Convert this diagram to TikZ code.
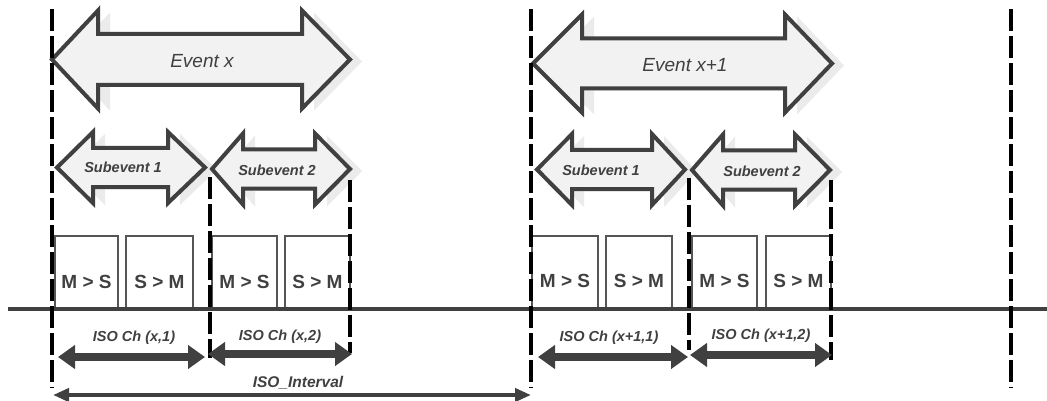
\documentclass[tikz,border=0pt]{standalone}
\usepackage{fontspec}
\setmainfont{Liberation Sans}
\usetikzlibrary{arrows.meta}
\definecolor{dk}{HTML}{404040}
\definecolor{afill}{HTML}{F2F2F2}
\definecolor{ashadow}{HTML}{EBEBEB}
\definecolor{boxline}{HTML}{555555}
% #1 left tip x, #2 left base x, #3 right base x, #4 right tip x, #5 centre y, #6 head half, #7 shaft half
\newcommand\barrowpath[7]{(#1,#5) -- (#2,#5-#6) -- (#2,#5-#7) -- (#3,#5-#7) -- (#3,#5-#6) -- (#4,#5) -- (#3,#5+#6) -- (#3,#5+#7) -- (#2,#5+#7) -- (#2,#5+#6) -- cycle}
\tikzset{
  blockarrow/.style={draw=dk, line width=4pt, fill=afill, line join=miter},
  blockshadow/.style={fill=ashadow},
  evtext/.style={text=dk, font=\fontsize{19}{21}\selectfont\itshape, inner sep=0pt},
  subtext/.style={text=dk, font=\fontsize{14.5}{16}\selectfont\bfseries\itshape, inner sep=0pt},
  pkt/.style={draw=boxline, line width=1.6pt, fill=white},
  pkttext/.style={text=dk, font=\fontsize{19}{21}\selectfont\bfseries, inner sep=0pt},
  isotext/.style={text=dk, font=\fontsize{14.5}{16}\selectfont\bfseries\itshape, inner sep=0pt},
  vdash/.style={black, line width=3.2pt, dash pattern=on 22pt off 5pt},
  isoarrow/.style={dk, line width=7.5pt, {Triangle[length=17pt,width=23pt]}-{Triangle[length=17pt,width=23pt]}},
  intarrow/.style={dk, line width=4pt, {Triangle[length=16pt,width=13pt]}-{Triangle[length=16pt,width=13pt]}},
}
\begin{document}
\begin{tikzpicture}[x=1pt,y=-1pt]
\useasboundingbox (0,0) rectangle (1047,401);
\fill[white] (0,0) rectangle (1047,401);

% ---- block arrows: shadows then arrows
\path[blockshadow, shift={(12,2)}] \barrowpath{52}{98}{302}{350}{59.5}{49}{25.5};
\draw[blockarrow] \barrowpath{52}{98}{302}{350}{59.5}{49}{25.5};
\node[evtext] (evx) at (202,61) {Event x};

\path[blockshadow, shift={(12,2)}] \barrowpath{533}{582}{785}{832}{63.5}{49}{25};
\draw[blockarrow] \barrowpath{533}{582}{785}{832}{63.5}{49}{25};
\node[evtext] (evx1) at (685,65) {Event x+1};

\path[blockshadow, shift={(12,2)}] \barrowpath{57}{93}{168}{205}{167.5}{35.5}{19.5};
\draw[blockarrow] \barrowpath{57}{93}{168}{205}{167.5}{35.5}{19.5};
\node[subtext] (s11) at (123,167) {Subevent 1};

\path[blockshadow, shift={(12,2)}] \barrowpath{212}{243}{315}{350}{169}{35.5}{19.5};
\draw[blockarrow] \barrowpath{212}{243}{315}{350}{169}{35.5}{19.5};
\node[subtext] (s12) at (277,170) {Subevent 2};

\path[blockshadow, shift={(12,2)}] \barrowpath{537}{572}{652}{685}{169.5}{35.5}{19.5};
\draw[blockarrow] \barrowpath{537}{572}{652}{685}{169.5}{35.5}{19.5};
\node[subtext] (s21) at (601,170) {Subevent 1};

\path[blockshadow, shift={(12,2)}] \barrowpath{692}{723}{795}{830}{170}{35.5}{19.5};
\draw[blockarrow] \barrowpath{692}{723}{795}{830}{170}{35.5}{19.5};
\node[subtext] (s22) at (762,171) {Subevent 2};

% ---- packet boxes
\draw[pkt] (55,236) rectangle (118,309);
\draw[pkt] (126,236) rectangle (193,309);
\draw[pkt] (212,236) rectangle (277,309);
\draw[pkt] (285,236) rectangle (350,309);
\draw[pkt] (532,236) rectangle (598,309);
\draw[pkt] (606,236) rectangle (672,309);
\draw[pkt] (692,236) rectangle (757,309);
\draw[pkt] (766,236) rectangle (831,309);
\node[pkttext] (p1) at (86.5,282) {M > S};
\node[pkttext] (p2) at (159.5,282) {S > M};
\node[pkttext] (p3) at (244.5,282) {M > S};
\node[pkttext] (p4) at (317.5,282) {S > M};
\node[pkttext] (p5) at (565,281) {M > S};
\node[pkttext] (p6) at (639,281) {S > M};
\node[pkttext] (p7) at (724.5,281) {M > S};
\node[pkttext] (p8) at (798.5,281) {S > M};

% ---- time line
\coordinate (bl) at (8,309);
\coordinate (br) at (1047,309);
\draw[dk, line width=3.2pt] (bl) -- (br);

% ---- dashed markers
\coordinate (d1t) at (52,9);   \coordinate (d1b) at (52,388);
\coordinate (d2t) at (210,177); \coordinate (d2b) at (210,358);
\coordinate (d3t) at (350,180); \coordinate (d3b) at (350,353);
\coordinate (d4t) at (531,9);  \coordinate (d4b) at (531,388);
\coordinate (d5t) at (689,178); \coordinate (d5b) at (689,350);
\coordinate (d6t) at (831,180); \coordinate (d6b) at (831,360);
\coordinate (d7t) at (1011,9); \coordinate (d7b) at (1011,388);
\foreach \n in {1,...,7} \draw[vdash] (d\n t) -- (d\n b);

% ---- ISO channel arrows
\coordinate (a1l) at (58,357);  \coordinate (a1r) at (205,357);
\coordinate (a2l) at (208,354); \coordinate (a2r) at (352,354);
\coordinate (a3l) at (538,357); \coordinate (a3r) at (688,357);
\coordinate (a4l) at (690,355); \coordinate (a4r) at (832,355);
\draw[isoarrow] (a1l) -- (a1r);
\draw[isoarrow] (a2l) -- (a2r);
\draw[isoarrow] (a3l) -- (a3r);
\draw[isoarrow] (a4l) -- (a4r);
\node[isotext] (c1) at (134,338) {ISO Ch (x,1)};
\node[isotext] (c2) at (280,337) {ISO Ch (x,2)};
\node[isotext] (c3) at (609,338) {ISO Ch (x+1,1)};
\node[isotext] (c4) at (761,336) {ISO Ch (x+1,2)};

% ---- ISO interval
\coordinate (il) at (53,395); \coordinate (ir) at (531,395);
\draw[intarrow] (il) -- (ir);
\node[isotext, font=\fontsize{15.5}{17}\selectfont\bfseries\itshape] (iso) at (298,383) {ISO\_Interval};
\end{tikzpicture}
\end{document}
